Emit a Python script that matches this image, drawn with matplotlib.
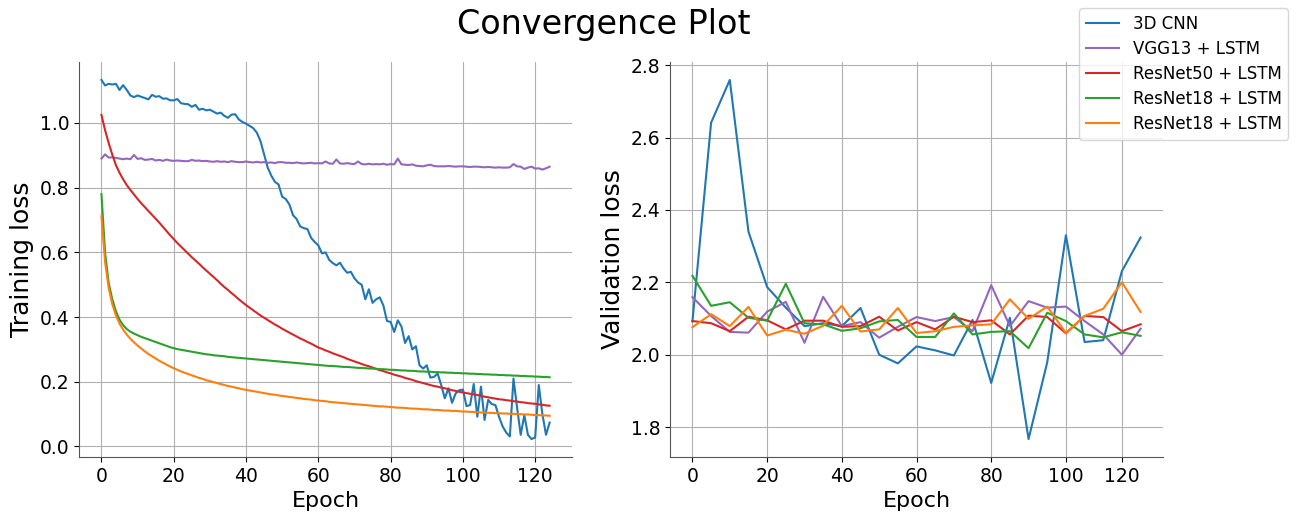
import matplotlib
matplotlib.use('Agg')
import matplotlib.pyplot as plt
import numpy as np

models = ['3D CNN', 'VGG13 + LSTM', 'ResNet50 + LSTM', 'ResNet18 + LSTM', 'ResNet18 + LSTM']
colors = ['tab:blue', 'tab:purple', 'tab:red', 'tab:green', 'tab:orange']

# training loss, one value per epoch (0..124)
train_cnn3d = [
    1.133, 1.116, 1.121, 1.119, 1.121, 1.102, 1.117, 1.102, 1.085, 1.080,
    1.085, 1.081, 1.077, 1.073, 1.087, 1.081, 1.083, 1.075, 1.076, 1.070,
    1.070, 1.074, 1.061, 1.059, 1.058, 1.050, 1.056, 1.041, 1.044, 1.039,
    1.041, 1.035, 1.029, 1.032, 1.022, 1.016, 1.026, 1.027, 1.011, 1.003,
    0.998, 0.991, 0.984, 0.970, 0.944, 0.903, 0.862, 0.837, 0.818, 0.810,
    0.772, 0.765, 0.748, 0.715, 0.703, 0.680, 0.675, 0.672, 0.645, 0.632,
    0.622, 0.597, 0.600, 0.577, 0.567, 0.560, 0.568, 0.550, 0.537, 0.540,
    0.520, 0.507, 0.500, 0.455, 0.486, 0.444, 0.455, 0.461, 0.436, 0.388,
    0.385, 0.354, 0.390, 0.371, 0.320, 0.341, 0.300, 0.310, 0.251, 0.241,
    0.251, 0.213, 0.215, 0.226, 0.190, 0.149, 0.180, 0.135, 0.164, 0.174,
    0.176, 0.125, 0.128, 0.193, 0.092, 0.185, 0.082, 0.144, 0.131, 0.128,
    0.092, 0.062, 0.043, 0.031, 0.210, 0.120, 0.036, 0.097, 0.036, 0.023,
    0.028, 0.190, 0.100, 0.036, 0.074]
train_vgg13 = [
    0.890, 0.903, 0.893, 0.894, 0.892, 0.890, 0.888, 0.890, 0.888, 0.901,
    0.889, 0.891, 0.886, 0.887, 0.889, 0.884, 0.886, 0.883, 0.887, 0.884,
    0.883, 0.884, 0.883, 0.882, 0.882, 0.886, 0.883, 0.884, 0.882, 0.883,
    0.881, 0.880, 0.882, 0.880, 0.881, 0.879, 0.882, 0.880, 0.879, 0.879,
    0.881, 0.879, 0.878, 0.880, 0.878, 0.879, 0.877, 0.878, 0.876, 0.879,
    0.879, 0.877, 0.877, 0.876, 0.878, 0.876, 0.875, 0.876, 0.877, 0.875,
    0.876, 0.875, 0.881, 0.875, 0.874, 0.887, 0.875, 0.874, 0.876, 0.874,
    0.873, 0.881, 0.873, 0.872, 0.874, 0.872, 0.873, 0.872, 0.874, 0.871,
    0.873, 0.872, 0.890, 0.872, 0.871, 0.870, 0.872, 0.868, 0.867, 0.866,
    0.869, 0.871, 0.867, 0.866, 0.866, 0.866, 0.867, 0.866, 0.865, 0.866,
    0.866, 0.865, 0.864, 0.865, 0.865, 0.864, 0.863, 0.864, 0.863, 0.862,
    0.863, 0.862, 0.862, 0.863, 0.873, 0.866, 0.865, 0.858, 0.862, 0.865,
    0.859, 0.860, 0.856, 0.860, 0.865]
train_resnet50 = [
    1.025, 0.978, 0.938, 0.902, 0.870, 0.846, 0.826, 0.808, 0.793, 0.779,
    0.765, 0.752, 0.740, 0.728, 0.716, 0.704, 0.692, 0.679, 0.666, 0.653,
    0.641, 0.629, 0.618, 0.607, 0.596, 0.585, 0.575, 0.565, 0.554, 0.544,
    0.534, 0.524, 0.514, 0.503, 0.493, 0.484, 0.474, 0.465, 0.455, 0.446,
    0.437, 0.429, 0.421, 0.413, 0.405, 0.398, 0.391, 0.384, 0.377, 0.371,
    0.364, 0.358, 0.352, 0.346, 0.340, 0.334, 0.329, 0.323, 0.318, 0.312,
    0.306, 0.302, 0.297, 0.293, 0.288, 0.284, 0.280, 0.276, 0.271, 0.267,
    0.263, 0.259, 0.255, 0.251, 0.248, 0.244, 0.240, 0.236, 0.233, 0.229,
    0.226, 0.222, 0.219, 0.216, 0.212, 0.209, 0.206, 0.202, 0.199, 0.196,
    0.193, 0.190, 0.187, 0.185, 0.182, 0.180, 0.177, 0.174, 0.172, 0.169,
    0.167, 0.165, 0.163, 0.161, 0.159, 0.157, 0.154, 0.152, 0.150, 0.148,
    0.146, 0.145, 0.143, 0.142, 0.140, 0.139, 0.137, 0.136, 0.134, 0.133,
    0.132, 0.130, 0.129, 0.127, 0.126]
train_resnet18_a = [
    0.780, 0.600, 0.505, 0.455, 0.418, 0.392, 0.375, 0.363, 0.355, 0.349,
    0.344, 0.339, 0.335, 0.331, 0.327, 0.323, 0.319, 0.315, 0.311, 0.307,
    0.304, 0.301, 0.299, 0.297, 0.295, 0.293, 0.291, 0.289, 0.287, 0.285,
    0.284, 0.282, 0.281, 0.280, 0.279, 0.277, 0.276, 0.275, 0.274, 0.273,
    0.272, 0.271, 0.270, 0.269, 0.268, 0.267, 0.266, 0.265, 0.264, 0.263,
    0.262, 0.261, 0.260, 0.259, 0.258, 0.257, 0.256, 0.255, 0.254, 0.253,
    0.252, 0.251, 0.250, 0.249, 0.249, 0.248, 0.247, 0.246, 0.246, 0.245,
    0.244, 0.243, 0.243, 0.242, 0.241, 0.241, 0.240, 0.239, 0.239, 0.238,
    0.237, 0.237, 0.236, 0.235, 0.235, 0.234, 0.234, 0.233, 0.232, 0.232,
    0.231, 0.231, 0.230, 0.230, 0.229, 0.229, 0.228, 0.228, 0.227, 0.227,
    0.226, 0.226, 0.225, 0.225, 0.224, 0.224, 0.223, 0.223, 0.222, 0.222,
    0.221, 0.221, 0.220, 0.220, 0.219, 0.219, 0.218, 0.218, 0.217, 0.217,
    0.216, 0.216, 0.215, 0.215, 0.214]
train_resnet18_b = [
    0.712, 0.570, 0.490, 0.440, 0.405, 0.380, 0.361, 0.346, 0.333, 0.322,
    0.312, 0.303, 0.294, 0.286, 0.279, 0.272, 0.265, 0.259, 0.253, 0.247,
    0.242, 0.237, 0.232, 0.228, 0.224, 0.220, 0.216, 0.212, 0.209, 0.205,
    0.202, 0.199, 0.196, 0.193, 0.190, 0.187, 0.185, 0.182, 0.180, 0.177,
    0.175, 0.173, 0.171, 0.169, 0.167, 0.165, 0.163, 0.161, 0.160, 0.158,
    0.156, 0.155, 0.153, 0.152, 0.150, 0.149, 0.147, 0.146, 0.145, 0.143,
    0.142, 0.141, 0.140, 0.138, 0.137, 0.136, 0.135, 0.134, 0.133, 0.132,
    0.131, 0.130, 0.129, 0.128, 0.127, 0.126, 0.125, 0.124, 0.124, 0.123,
    0.122, 0.121, 0.120, 0.120, 0.119, 0.118, 0.117, 0.117, 0.116, 0.115,
    0.115, 0.114, 0.113, 0.113, 0.112, 0.111, 0.111, 0.110, 0.110, 0.109,
    0.108, 0.108, 0.107, 0.107, 0.106, 0.105, 0.105, 0.104, 0.104, 0.103,
    0.103, 0.102, 0.102, 0.101, 0.101, 0.100, 0.100, 0.099, 0.099, 0.098,
    0.097, 0.097, 0.096, 0.096, 0.095]

# validation loss, every 5 epochs
val_epochs = list(range(0, 121, 5))
val_cnn3d = [2.092, 2.641, 2.759, 2.340, 2.187, 2.130, 2.079, 2.087, 2.079, 2.129,
             2.000, 1.976, 2.023, 2.012, 1.998, 2.096, 1.922, 2.102, 1.767, 1.979,
             2.330, 2.035, 2.040, 2.231, 2.324]
val_vgg13 = [2.159, 2.107, 2.063, 2.061, 2.119, 2.146, 2.033, 2.160, 2.079, 2.090,
             2.047, 2.077, 2.104, 2.093, 2.104, 2.065, 2.192, 2.079, 2.148, 2.130,
             2.133, 2.093, 2.056, 2.000, 2.072]
val_resnet50 = [2.093, 2.087, 2.065, 2.105, 2.095, 2.070, 2.094, 2.094, 2.077, 2.079,
                2.105, 2.067, 2.090, 2.070, 2.105, 2.090, 2.095, 2.056, 2.108, 2.104,
                2.059, 2.107, 2.104, 2.065, 2.084]
val_resnet18_a = [2.218, 2.135, 2.145, 2.102, 2.094, 2.196, 2.087, 2.084, 2.066, 2.073,
                  2.092, 2.096, 2.049, 2.049, 2.114, 2.056, 2.063, 2.065, 2.018, 2.116,
                  2.093, 2.056, 2.048, 2.062, 2.052]
val_resnet18_b = [2.076, 2.112, 2.079, 2.132, 2.053, 2.069, 2.058, 2.080, 2.135, 2.064,
                  2.070, 2.129, 2.060, 2.065, 2.077, 2.081, 2.084, 2.153, 2.099, 2.133,
                  2.060, 2.107, 2.127, 2.200, 2.118]

val_tick_pos = [0, 20, 40, 60, 80, 100, 115]
val_tick_labels = ['0', '20', '40', '60', '80', '100', '120']

train = [train_cnn3d, train_vgg13, train_resnet50, train_resnet18_a, train_resnet18_b]
val = [val_cnn3d, val_vgg13, val_resnet50, val_resnet18_a, val_resnet18_b]

fig = plt.figure(figsize=(12.98, 5.12), dpi=100)
ax1 = fig.add_axes([0.0609, 0.1074, 0.3798, 0.7715])
ax2 = fig.add_axes([0.5162, 0.1074, 0.3798, 0.7715])

for name, c, y in zip(models, colors, train):
    ax1.plot(np.arange(len(y)), y, color=c, lw=1.5, label=name)
for name, c, y in zip(models, colors, val):
    ax2.plot(val_epochs, y, color=c, lw=1.5)

ax1.set_ylabel('Training loss', fontsize=18)
ax2.set_ylabel('Validation loss', fontsize=18)
ax2.set_xticks(val_tick_pos)
ax2.set_xticklabels(val_tick_labels)
ax2.set_yticks([1.8, 2.0, 2.2, 2.4, 2.6, 2.8])

for ax in (ax1, ax2):
    ax.set_xlabel('Epoch', fontsize=16)
    ax.tick_params(labelsize=13.5)
    ax.grid(True, color='#b0b0b0', lw=0.8)
    ax.spines['top'].set_visible(False)
    ax.spines['right'].set_visible(False)
    ax.spines['left'].set_color('#555555')
    ax.spines['bottom'].set_color('#555555')

fig.suptitle('Convergence Plot', fontsize=24, x=0.465, y=0.985)
fig.legend(loc='upper right', fontsize=12, labelspacing=0.42,
           bbox_to_anchor=(0.999, 1.0))

fig.savefig('out.png', dpi=100)
